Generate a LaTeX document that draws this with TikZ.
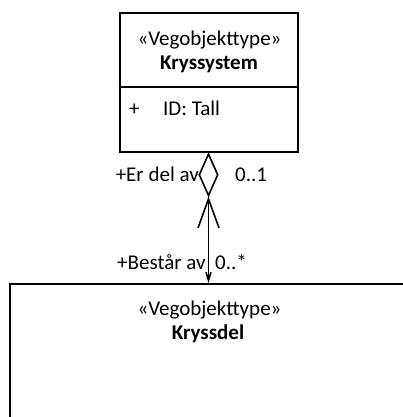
\documentclass[tikz,border=0pt]{standalone}
\usepackage{fontspec}
\setmainfont{Carlito}
\usetikzlibrary{
  arrows.meta,
  shapes.geometric
}
\tikzset{
  klasse/.style={draw,line width=2pt,inner sep=0pt},
  navn/.style={anchor=base,inner sep=0pt},
  rolle/.style={inner sep=0pt},
  assosiasjon/.style={line width=1.6pt},
}

\begin{document}
\begin{tikzpicture}[x=1pt,y=-1pt,font=\fontsize{21}{24}\selectfont]
\useasboundingbox (0,0) rectangle (403,417);
\clip (0,0) rectangle (403,417);
% klassene
\node[klasse,minimum width=178pt,minimum height=139pt] (kryssystem) at (208.5,82.5) {};
\node[klasse,minimum width=440pt,minimum height=200pt,anchor=north west] (kryssdel) at (9,283) {};
\draw[line width=2pt] (kryssystem.west |- 0,87.5) -- (kryssystem.east |- 0,87.5);
\node[navn] (kryssystem-type) at (209.5,46) {«Vegobjekttype»};
\node[navn] (kryssystem-navn) at (209,70) {\textbf{Kryssystem}};
\node[rolle,anchor=base west] (id-synlighet) at (129,115) {+};
\node[rolle,anchor=base west] (id-attributt) at (163,115) {ID: Tall};
\node[navn] (kryssdel-type) at (209.5,315) {«Vegobjekttype»};
\node[navn] (kryssdel-navn) at (208,339) {\textbf{Kryssdel}};
% aggregering
\node[diamond,draw,line width=1.6pt,minimum width=19pt,minimum height=42pt,inner sep=0pt,anchor=north]
  (aggregering) at (kryssystem.south) {};
\draw[assosiasjon,{Straight Barb[length=29pt,width=21pt]}-{Straight Barb[length=8pt,width=5pt]}]
  (aggregering.south) -- (aggregering.south |- kryssdel.north);
\node[rolle,anchor=base east] (er-del-av) at (199,181) {+Er del av};
\node[rolle,anchor=base west] (mult-topp) at (235,181) {0..1};
\node[rolle,anchor=base west] (bestar-av) at (117,269) {+Består av};
\node[rolle,anchor=base west] (mult-bunn) at (215,269) {0..*};
\end{tikzpicture}
\end{document}
